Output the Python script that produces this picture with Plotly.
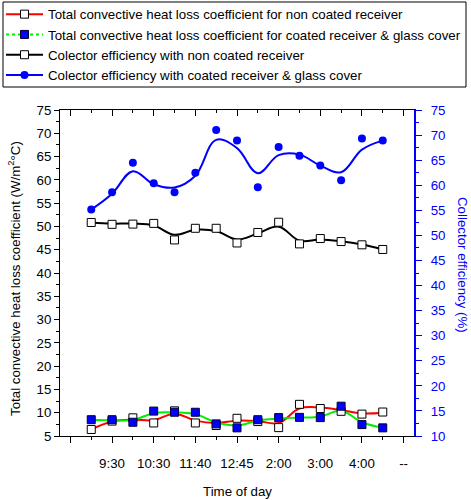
import plotly.graph_objects as go

# ---------------- data ----------------
x_pos = list(range(1, 16))                      # 15 measurement slots
major_ticks = [0, 2, 4, 6, 8, 10, 12, 14, 16]
minor_ticks = [1, 3, 5, 7, 9, 11, 13, 15]
time_labels = ["", "9:30", "10:30", "11:40", "12:45", "2:00", "3:00", "4:00", "--"]

# Total convective heat loss coefficient, non coated receiver (W/m2°C)
red_pts = [6.4, 8.2, 8.9, 7.8, 10.4, 7.8, 7.25, 8.8, 8.1, 6.8, 11.8, 10.9, 10.3, 9.7, 10.15]
red_fit = [6.4, 8.1, 8.5, 8.4, 9.8, 8.3, 7.8, 8.3, 8.2, 7.8, 10.9, 11.1, 10.55, 9.85, 10.0]

# Total convective heat loss coefficient, coated receiver & glass cover
green_pts = [8.5, 8.5, 7.95, 10.35, 10.1, 10.1, 7.6, 6.75, 8.5, 8.95, 9.0, 8.95, 11.4, 7.45, 6.75]
green_fit = [8.5, 8.4, 8.45, 9.9, 10.05, 9.7, 7.95, 7.25, 8.3, 8.75, 8.95, 9.15, 10.4, 7.95, 6.75]

# Collector efficiency, non coated receiver (plotted on left axis scale)
black_pts = [50.85, 50.45, 50.5, 50.65, 47.1, 49.6, 49.6, 46.45, 48.7, 50.9, 46.25, 47.4, 46.75, 46.05, 45.05]
black_fit = [50.85, 50.6, 50.6, 50.2, 48.2, 49.3, 49.0, 47.2, 48.5, 49.95, 46.95, 47.2, 46.8, 46.1, 45.05]

# Collector efficiency, coated receiver & glass cover (%) - right axis
blue_pts = [55.15, 58.6, 64.5, 60.4, 58.6, 62.5, 71.0, 68.9, 59.6, 67.6, 65.9, 63.95, 61.0, 69.3, 68.9]
blue_fit = [55.15, 58.3, 62.8, 60.2, 59.55, 61.9, 69.05, 67.4, 62.4, 66.0, 66.1, 63.9, 62.6, 67.1, 68.9]

names = [
    "Total convective heat loss coefficient for non coated receiver",
    "Total convective heat loss coefficient for coated receiver & glass cover",
    "Colector efficiency with non coated receiver",
    "Colector efficiency with coated receiver & glass cover",
]

RED, GREEN, BLACK, BLUE = "#ff0000", "#00ee00", "#000000", "#0000ff"
FONT = "Liberation Sans, Arial, Helvetica, sans-serif"
FS = 13.3

L, R, T, B = 60, 57, 110, 64
PW, PH = 471 - L - R, 500 - T - B

def px_x(px):
    return (px - L) / PW

def px_y(py):
    return (500 - B - py) / PH

fig = go.Figure()

sq_white = dict(symbol="square", size=8, color="white", line=dict(color="black", width=1))
sq_blue = dict(symbol="square", size=8, color=BLUE, line=dict(color="#000033", width=1))
circ_blue = dict(symbol="circle", size=8, color=BLUE, line=dict(color=BLUE, width=0))

# legend-only entries
legend_specs = [
    (names[0], RED, "solid", sq_white),
    (names[1], GREEN, "dot", sq_blue),
    (names[2], BLACK, "solid", sq_white),
    (names[3], BLUE, "solid", circ_blue),
]
for nm, col, dash, mk in legend_specs:
    fig.add_trace(go.Scatter(x=[-5], y=[-5], mode="lines+markers", name=nm,
                             line=dict(color=col, width=2, dash=dash), marker=mk,
                             showlegend=True, hoverinfo="skip"))

# smoothed curves
for fit, col, ax in [(red_fit, RED, "y"), (green_fit, GREEN, "y"), (black_fit, BLACK, "y"), (blue_fit, BLUE, "y2")]:
    fig.add_trace(go.Scatter(x=x_pos, y=fit, mode="lines", yaxis=ax, showlegend=False,
                             line=dict(color=col, width=2, shape="spline", smoothing=1.1),
                             hoverinfo="skip"))

# data markers
for pts, mk, ax in [(red_pts, sq_white, "y"), (green_pts, sq_blue, "y"), (black_pts, sq_white, "y"), (blue_pts, circ_blue, "y2")]:
    fig.add_trace(go.Scatter(x=x_pos, y=pts, mode="markers", yaxis=ax, showlegend=False, marker=mk))

# invisible trace to activate the top axis
fig.add_trace(go.Scatter(x=x_pos, y=red_pts, xaxis="x2", yaxis="y", mode="markers",
                         marker=dict(opacity=0), showlegend=False, hoverinfo="skip"))

fig.update_layout(
    width=471, height=500,
    margin=dict(l=L, r=R, t=T, b=B, autoexpand=False),
    paper_bgcolor="white", plot_bgcolor="white",
    font=dict(family=FONT, size=FS, color="black"),
    showlegend=True,
    legend=dict(
        x=px_x(1), y=px_y(-1),
        xanchor="left", yanchor="top",
        borderwidth=0, bgcolor="rgba(0,0,0,0)",
        font=dict(family=FONT, size=FS, color="black"),
        tracegroupgap=0, itemwidth=37,
    ),
    shapes=[
        dict(type="rect", xref="paper", yref="paper",
             x0=px_x(3), x1=px_x(466), y0=px_y(87), y1=px_y(2),
             line=dict(color="black", width=1), fillcolor="rgba(0,0,0,0)", layer="above"),
    ],
    xaxis=dict(
        range=[-0.5, 16.5], tickmode="array", tickvals=major_ticks, ticktext=time_labels,
        showline=True, linecolor="black", linewidth=1, automargin=False,
        ticks="outside", ticklen=6, tickcolor="black", tickwidth=1, ticklabelstandoff=9,
        minor=dict(tickmode="array", tickvals=minor_ticks, ticks="outside", ticklen=3, tickcolor="black"),
        showgrid=False, zeroline=False, tickfont=dict(size=FS),
    ),
    xaxis2=dict(
        range=[-0.5, 16.5], overlaying="x", side="top", tickmode="array",
        tickvals=major_ticks, showticklabels=False, automargin=False,
        showline=True, linecolor="black", linewidth=1,
        ticks="inside", ticklen=6, tickcolor="black",
        minor=dict(tickmode="array", tickvals=minor_ticks, ticks="inside", ticklen=3, tickcolor="black"),
        showgrid=False, zeroline=False,
    ),
    yaxis=dict(
        range=[5, 75], tickmode="linear", tick0=5, dtick=5, automargin=False,
        showline=True, linecolor="black", linewidth=1,
        ticks="outside", ticklen=5, tickcolor="black",
        minor=dict(tickmode="linear", dtick=2.5, tick0=5, ticks="outside", ticklen=3, tickcolor="black"),
        showgrid=False, zeroline=False, tickfont=dict(size=FS),
    ),
    yaxis2=dict(
        range=[10, 75], tickmode="linear", tick0=10, dtick=5, overlaying="y", side="right",
        showline=True, linecolor=BLUE, linewidth=2, automargin=False,
        ticks="outside", ticklen=6, tickcolor=BLUE, ticklabelstandoff=6,
        minor=dict(tickmode="linear", dtick=2.5, tick0=10, ticks="outside", ticklen=3, tickcolor=BLUE),
        showgrid=False, zeroline=False, tickfont=dict(size=FS, color=BLUE),
    ),
    annotations=[
        dict(text="Total convective heat loss coefficient (W/m<sup>2</sup>°C)", textangle=-90,
             xref="paper", yref="paper", x=px_x(14), y=px_y(279),
             xanchor="center", yanchor="middle", showarrow=False,
             font=dict(family=FONT, size=FS, color="black")),
        dict(text="Collector efficiency (%)", textangle=90,
             xref="paper", yref="paper", x=px_x(463), y=px_y(265),
             xanchor="center", yanchor="middle", showarrow=False,
             font=dict(family=FONT, size=FS, color=BLUE)),
        dict(text="Time of day", xref="paper", yref="paper",
             x=px_x(237), y=px_y(492), xanchor="center", yanchor="middle", showarrow=False,
             font=dict(family=FONT, size=FS, color="black")),
    ],
)

fig.write_html("out.html", config={"displayModeBar": False},
               post_script="document.body.style.margin='0px';document.body.style.padding='0px';")
